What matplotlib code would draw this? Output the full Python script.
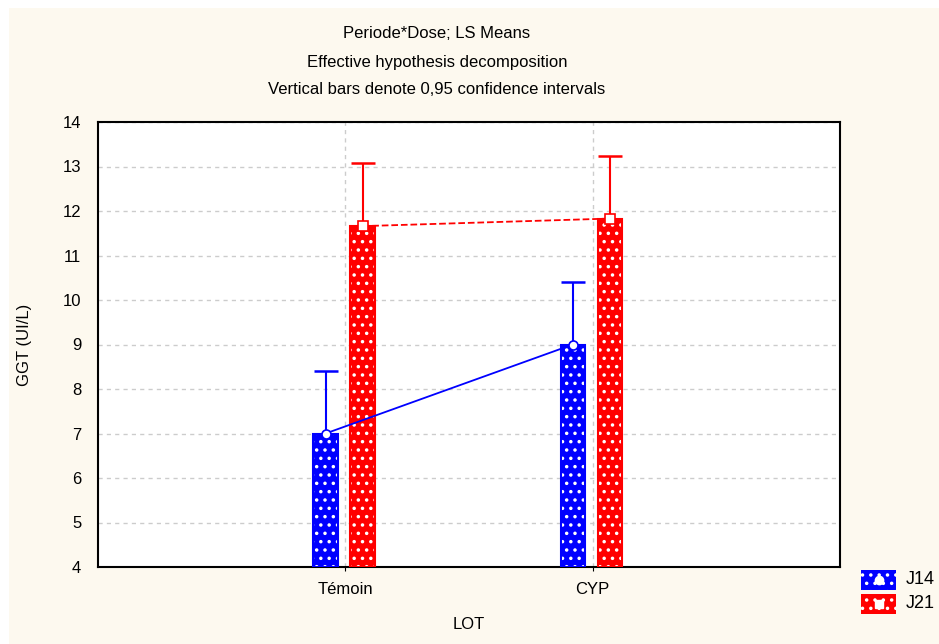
import numpy as np
import matplotlib
matplotlib.use('Agg')
import matplotlib.pyplot as plt
from matplotlib.patches import Rectangle

plt.rcParams['font.family'] = ['Liberation Sans', 'DejaVu Sans']
plt.rcParams['hatch.linewidth'] = 1.3

# data
lots = ['Témoin', 'CYP']
j14_mean = [7.0, 9.0]
j14_upper = [8.4, 10.4]
j21_mean = [11.66, 11.83]
j21_upper = [13.07, 13.24]

fig = plt.figure(figsize=(9.39, 6.44), dpi=100)
fig.patch.set_facecolor('white')
# cream background panel
fig.patches.append(Rectangle((9/939, 0), 1, 1 - 8/644, transform=fig.transFigure,
                             facecolor='#fdf9ef', edgecolor='none', zorder=-10))

ax = fig.add_axes([98/939, 1 - 567/644, 742/939, 445/644])
ax.set_facecolor('white')

x = np.arange(len(lots))
w = 0.1
off14, off21 = -0.08, 0.07
series = [
    ('J14', j14_mean, j14_upper, off14, '#0000ff', '-', 'o'),
    ('J21', j21_mean, j21_upper, off21, '#ff0000', '--', 's'),
]
hatch = '..'
for name, m, up, off, col, ls, mk in series:
    m = np.array(m)
    up = np.array(up)
    xs = x + off
    ax.bar(xs, m - 4, bottom=4, width=w, color=col, edgecolor='white',
           hatch=hatch, linewidth=0, zorder=3)
    ax.bar(xs, m - 4, bottom=4, width=w, fill=False, edgecolor=col,
           linewidth=1.5, zorder=4)
    # upper confidence limit only (lower part hidden behind the bar)
    ax.vlines(xs, m, up, color=col, lw=1.5, zorder=5)
    ax.plot(xs, up, ls='none', marker='_', ms=17, mew=1.8, color=col, zorder=5)
    ax.plot(xs, m, color=col, ls=ls, lw=1.3, zorder=6)
    ax.plot(xs, m, ls='none', marker=mk, ms=6.5, mfc='white', mec=col,
            mew=1.2, zorder=7)

ax.set_xlim(-1, 2)
ax.set_ylim(4, 14)
ax.set_xticks(x)
ax.set_xticklabels(lots, fontsize=12)
ax.set_yticks(np.arange(4, 15, 1))
ax.tick_params(axis='y', labelsize=12, length=0, pad=12)
ax.tick_params(axis='x', length=3, pad=8)
ax.grid(True, color='#cccccc', ls=(0, (3, 3)), lw=1)
ax.set_axisbelow(True)
for s in ax.spines.values():
    s.set_linewidth(1.5)
    s.set_color('black')

ax.set_xlabel('LOT', fontsize=12, labelpad=14)
ax.set_ylabel('GGT (UI/L)', fontsize=12, labelpad=22)

fig.text(437/939, 1 - 34/644, 'Periode*Dose; LS Means', ha='center', va='center', fontsize=12)
fig.text(437/939, 1 - 62/644, 'Effective hypothesis decomposition', ha='center', va='center', fontsize=12)
fig.text(437/939, 1 - 90/644, 'Vertical bars denote 0,95 confidence intervals', ha='center', va='center', fontsize=12)

# legend
for i, (name, m, up, off, col, ls, mk) in enumerate(series):
    yc = 580 + 24 * i
    lx = fig.add_axes([861/939, 1 - (yc + 10)/644, 35/939, 20/644])
    lx.add_patch(Rectangle((0, 0), 1, 1, facecolor=col, edgecolor='white',
                           hatch=hatch, linewidth=0))
    lx.plot([0.5], [0.5], marker=mk, ms=6, mfc='white', mec='white')
    lx.set_xlim(0, 1)
    lx.set_ylim(0, 1)
    lx.axis('off')
    fig.text(906/939, 1 - yc/644, name, ha='left', va='center', fontsize=13)

fig.savefig('out.png', dpi=100, facecolor=fig.get_facecolor())
